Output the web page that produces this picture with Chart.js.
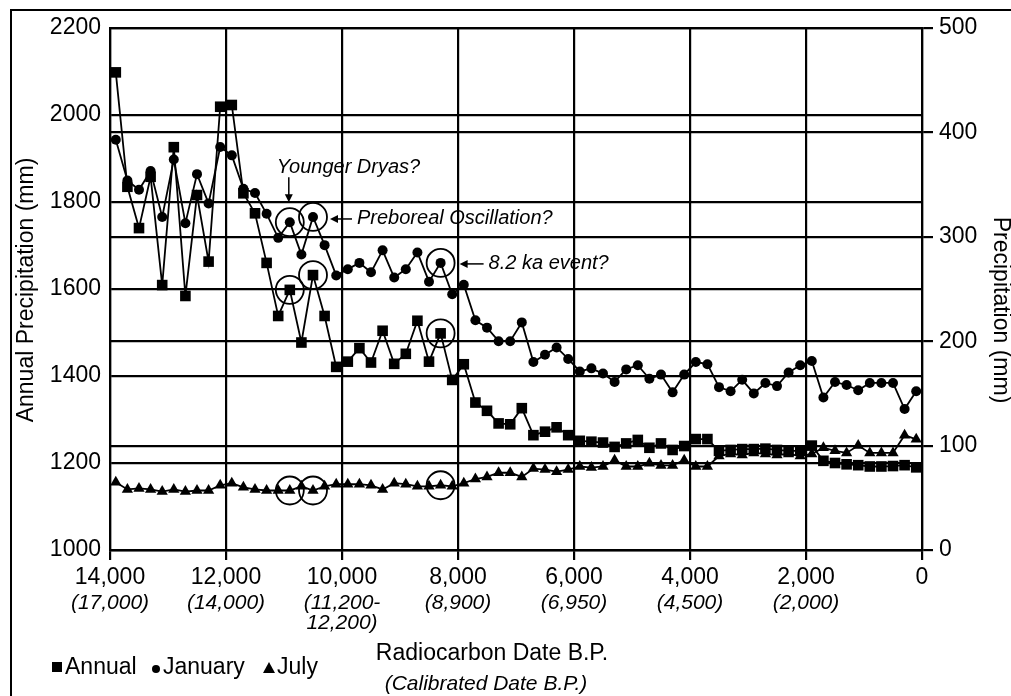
<!DOCTYPE html>
<html>
<head>
<meta charset="utf-8">
<script src="https://cdn.jsdelivr.net/npm/chart.js@4.4.1/dist/chart.umd.min.js"></script>
<style>
  html, body { margin: 0; padding: 0; background: #fff; }
  #wrap { width: 1011px; height: 696px; position: relative; }
</style>
</head>
<body>
<div id="wrap"><canvas id="precipChart"></canvas></div>
<script>
// radiocarbon dates (years B.P.) of each sample
const dates = [
  13900, 13700, 13500, 13300, 13100, 12900, 12700, 12500, 12300, 12100,
  11900, 11700, 11500, 11300, 11100, 10900, 10700, 10500, 10300, 10100,
  9900, 9700, 9500, 9300, 9100, 8900, 8700, 8500, 8300, 8100,
  7900, 7700, 7500, 7300, 7100, 6900, 6700, 6500, 6300, 6100,
  5900, 5700, 5500, 5300, 5100, 4900, 4700, 4500, 4300, 4100,
  3900, 3700, 3500, 3300, 3100, 2900, 2700, 2500, 2300, 2100,
  1900, 1700, 1500, 1300, 1100, 900, 700, 500, 300, 100
];

// annual precipitation (mm, left axis)
const annual = [
  2098, 1835, 1740, 1858, 1609, 1926, 1584, 1816, 1663, 2019,
  2023, 1820, 1774, 1660, 1538, 1598, 1477, 1632, 1538, 1421,
  1433, 1464, 1431, 1504, 1428, 1451, 1527, 1433, 1498, 1391,
  1427, 1339, 1320, 1291, 1289, 1326, 1264, 1272, 1282, 1264,
  1251, 1249, 1247, 1237, 1245, 1253, 1235, 1245, 1230, 1239,
  1255, 1255, 1228, 1230, 1232, 1232, 1233, 1230, 1228, 1228,
  1240, 1205, 1200, 1197, 1195, 1192, 1192, 1193, 1195, 1190
];

// January precipitation (mm, right axis)
const january = [
  393, 354, 345, 363, 319, 374, 313, 360, 332, 386,
  378, 346, 342, 322, 299, 314, 283, 319, 292, 263,
  269, 275, 266, 287, 261, 269, 285, 257, 275, 245,
  254, 220, 213, 200, 200, 218, 180, 187, 194, 183,
  171, 174, 169, 161, 173, 177, 164, 168, 151, 168,
  180, 178, 156, 152, 163, 150, 160, 157, 170, 177,
  181, 146, 161, 158, 153, 160, 160, 160, 135, 152
];

// July precipitation (mm, right axis)
const july = [
  65, 58, 59, 58, 56, 58, 56, 57, 57, 62,
  64, 60, 58, 57, 57, 57, 61, 57, 61, 63,
  63, 63, 62, 58, 64, 63, 61, 61, 62, 61,
  64, 68, 70, 74, 74, 70, 78, 77, 75, 77,
  80, 79, 80, 86, 80, 80, 83, 81, 81, 86,
  80, 80, 90, 92, 91, 93, 92, 91, 92, 90,
  92, 98, 95, 93, 100, 93, 93, 93, 110, 106
];

const xTicks = [14000, 12000, 10000, 8000, 6000, 4000, 2000, 0];
const calibratedLabels = [['(17,000)'], ['(14,000)'], ['(11,200-', '12,200)'], ['(8,900)'], ['(6,950)'], ['(4,500)'], ['(2,000)'], []];

// samples ringed in the figure
const circledDates = [10900, 10500, 8300];

const FONT = "'Liberation Sans', Arial, Helvetica, sans-serif";

const toPoints = (vals) => dates.map((d, i) => ({ x: d, y: vals[i] }));

function arrow(ctx, x1, y1, x2, y2) {
  const a = Math.atan2(y2 - y1, x2 - x1);
  ctx.beginPath();
  ctx.moveTo(x1, y1);
  ctx.lineTo(x2 - Math.cos(a) * 6, y2 - Math.sin(a) * 6);
  ctx.stroke();
  ctx.beginPath();
  ctx.moveTo(x2, y2);
  ctx.lineTo(x2 - Math.cos(a) * 8 - Math.sin(a) * 4, y2 - Math.sin(a) * 8 + Math.cos(a) * 4);
  ctx.lineTo(x2 - Math.cos(a) * 8 + Math.sin(a) * 4, y2 - Math.sin(a) * 8 - Math.cos(a) * 4);
  ctx.closePath();
  ctx.fill();
}

const overlay = {
  id: 'overlay',
  afterDraw(chart) {
    const { ctx } = chart;
    const { x, y, y2 } = chart.scales;
    ctx.save();
    ctx.fillStyle = '#000';
    ctx.strokeStyle = '#000';

    // rings round the events
    ctx.lineWidth = 1.8;
    const ringAt = {};
    circledDates.forEach(d => {
      const i = dates.indexOf(d);
      const px = x.getPixelForValue(d);
      ringAt[d] = { px, py: y2.getPixelForValue(january[i]) };
      [y.getPixelForValue(annual[i]), y2.getPixelForValue(january[i]), y2.getPixelForValue(july[i])].forEach(py => {
        ctx.beginPath();
        ctx.arc(px, py, 14, 0, Math.PI * 2);
        ctx.stroke();
      });
    });

    // event notes
    ctx.lineWidth = 1.5;
    ctx.font = 'italic 20px ' + FONT;
    ctx.textBaseline = 'middle';
    ctx.textAlign = 'left';
    let r = ringAt[10900];
    ctx.fillText('Younger Dryas?', r.px - 13, r.py - 55);
    arrow(ctx, r.px - 1, r.py - 45, r.px - 1, r.py - 20);
    r = ringAt[10500];
    ctx.fillText('Preboreal Oscillation?', r.px + 44, r.py + 1);
    arrow(ctx, r.px + 39, r.py + 2, r.px + 17, r.py + 2);
    r = ringAt[8300];
    ctx.fillText('8.2 ka event?', r.px + 48, r.py + 1);
    arrow(ctx, r.px + 43, r.py + 1, r.px + 19, r.py + 1);

    // calibrated dates under the tick labels
    ctx.font = 'italic 21px ' + FONT;
    ctx.textAlign = 'center';
    xTicks.forEach((t, k) => {
      calibratedLabels[k].forEach((s, j) => {
        ctx.fillText(s, x.getPixelForValue(t), 603 + j * 20);
      });
    });

    // axis titles
    ctx.font = '23px ' + FONT;
    ctx.textBaseline = 'alphabetic';
    ctx.fillText('Radiocarbon Date B.P.', 492, 660);
    ctx.font = 'italic 21px ' + FONT;
    ctx.fillText('(Calibrated Date B.P.)', 486, 690);

    ctx.font = '23px ' + FONT;
    ctx.textBaseline = 'middle';
    ctx.save();
    ctx.translate(27, 290);
    ctx.rotate(-Math.PI / 2);
    ctx.fillText('Annual Precipitation (mm)', 0, 0);
    ctx.restore();
    ctx.save();
    ctx.translate(1000, 310);
    ctx.rotate(Math.PI / 2);
    ctx.fillText('Precipitation (mm)', 0, 0);
    ctx.restore();

    // legend
    ctx.textAlign = 'left';
    ctx.textBaseline = 'alphabetic';
    ctx.font = '23px ' + FONT;
    ctx.fillRect(52, 662, 10, 10);
    ctx.fillText('Annual', 65, 674);
    ctx.beginPath();
    ctx.arc(156, 669, 4, 0, Math.PI * 2);
    ctx.fill();
    ctx.fillText('January', 163, 674);
    ctx.beginPath();
    ctx.moveTo(269, 662);
    ctx.lineTo(275, 673);
    ctx.lineTo(263, 673);
    ctx.closePath();
    ctx.fill();
    ctx.fillText('July', 277, 674);

    // outer frame
    ctx.lineWidth = 2;
    ctx.beginPath();
    ctx.moveTo(11, 700);
    ctx.lineTo(11, 10);
    ctx.lineTo(1011, 10);
    ctx.stroke();
    ctx.restore();
  }
};

const seriesStyle = {
  borderColor: '#000',
  backgroundColor: '#000',
  pointBackgroundColor: '#000',
  pointBorderColor: '#000',
  pointBorderWidth: 0,
  borderWidth: 1.8,
  showLine: true,
  tension: 0
};

new Chart(document.getElementById('precipChart'), {
  type: 'scatter',
  data: {
    datasets: [
      { ...seriesStyle, label: 'Annual', data: toPoints(annual), yAxisID: 'y', pointStyle: 'rect', pointRadius: 7.5 },
      { ...seriesStyle, label: 'January', data: toPoints(january), yAxisID: 'y2', pointStyle: 'circle', pointRadius: 5 },
      { ...seriesStyle, label: 'July', data: toPoints(july), yAxisID: 'y2', pointStyle: 'triangle', pointRadius: 6.5 }
    ]
  },
  options: {
    responsive: true,
    maintainAspectRatio: false,
    animation: false,
    events: [],
    layout: { padding: { top: 28, left: 0, right: 0, bottom: 0 } },
    plugins: { legend: { display: false }, tooltip: { enabled: false } },
    scales: {
      x: {
        type: 'linear',
        reverse: true,
        min: 0,
        max: 14000,
        afterFit(scale) { scale.height = 146; },
        afterBuildTicks(scale) { scale.ticks = xTicks.map(v => ({ value: v })); },
        ticks: {
          color: '#000',
          font: { family: FONT, size: 23 },
          padding: 4,
          maxRotation: 0,
          callback: v => v.toLocaleString('en-US')
        },
        grid: { color: '#000', lineWidth: 2.2, tickLength: 10, tickColor: '#000' },
        border: { color: '#000', width: 2.2 }
      },
      y: {
        position: 'left',
        min: 1000,
        max: 2200,
        afterFit(scale) { scale.width = 110; },
        ticks: { stepSize: 200, color: '#000', font: { family: FONT, size: 23 }, padding: 9, callback: v => String(v) },
        grid: { color: '#000', lineWidth: 2.2, drawTicks: false },
        border: { color: '#000', width: 2.2 }
      },
      y2: {
        position: 'right',
        min: 0,
        max: 500,
        afterFit(scale) { scale.width = 89; },
        ticks: { stepSize: 100, color: '#000', font: { family: FONT, size: 23 }, padding: 6, callback: v => String(v) },
        grid: { color: '#000', lineWidth: 2.2, tickLength: 11, drawOnChartArea: true },
        border: { color: '#000', width: 2.2 }
      }
    }
  },
  plugins: [overlay]
});
</script>
</body>
</html>
